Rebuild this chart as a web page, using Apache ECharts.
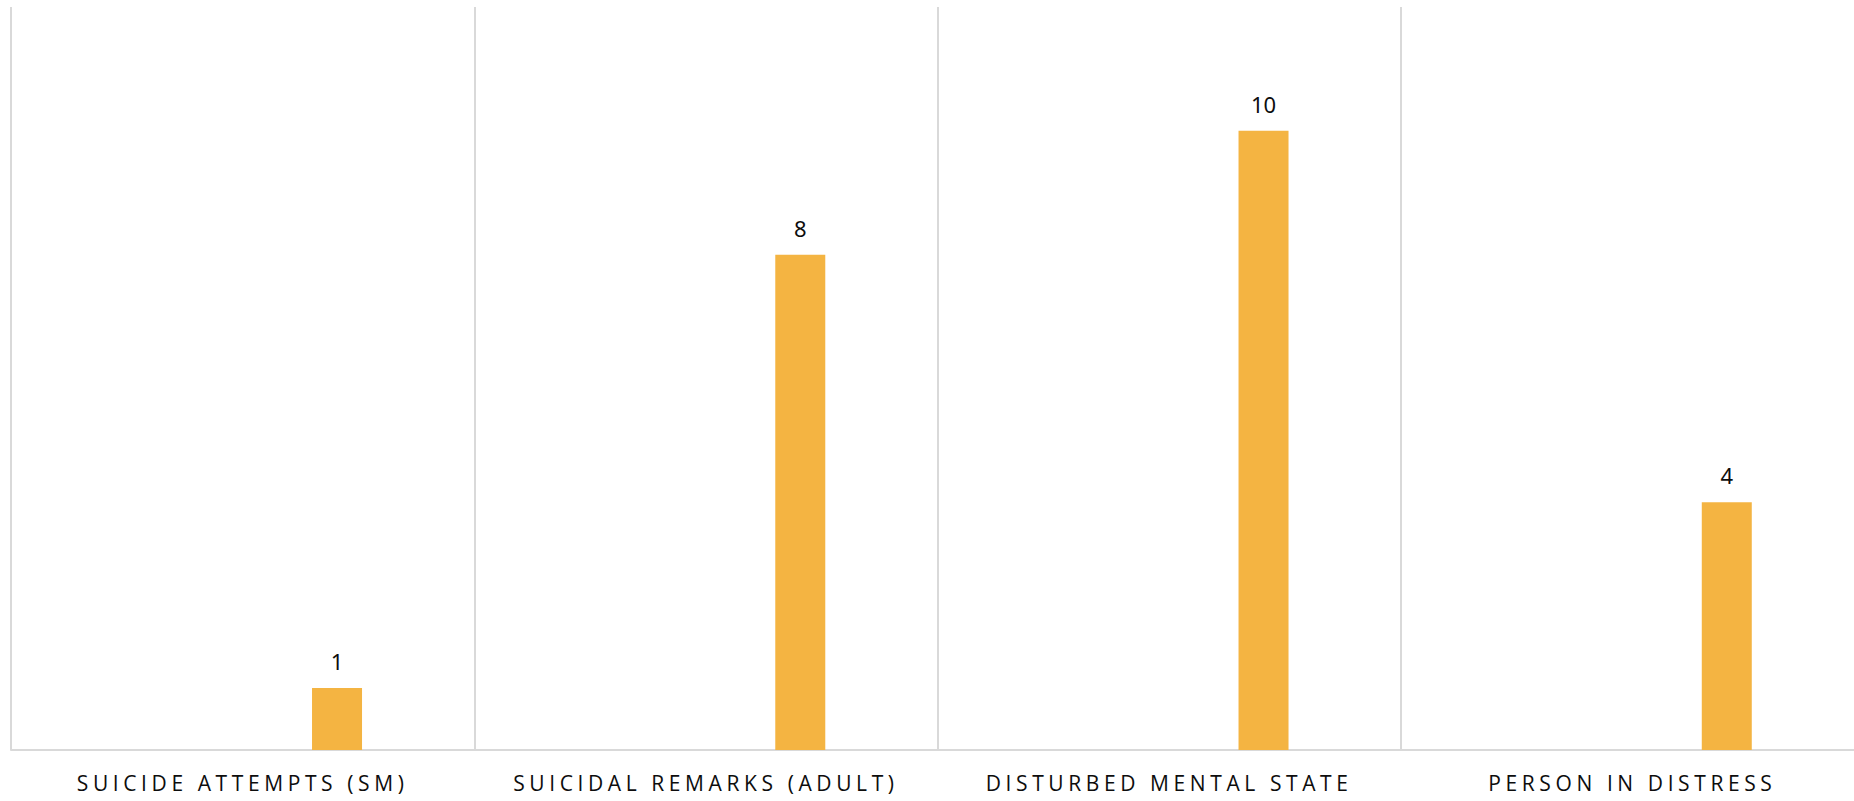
<!DOCTYPE html>
<html>
<head>
<meta charset="utf-8">
<script src="https://cdn.jsdelivr.net/npm/echarts@6/dist/echarts.min.js"></script>
<style>
  html, body { margin: 0; padding: 0; background: #ffffff; }
  #chart { width: 1854px; height: 801px; }
  #chart text[style*="Open Sans"] { letter-spacing: 4.6px; }
</style>
</head>
<body>
<div id="chart"></div>
<script>
const categories = ['SUICIDE ATTEMPTS (SM)', 'SUICIDAL REMARKS (ADULT)', 'DISTURBED MENTAL STATE', 'PERSON IN DISTRESS'];
const incidentCounts = [1, 8, 10, 4];
const emptySeries = ['-', '-', '-', '-'];
const yMax = 12;

const chart = echarts.init(document.getElementById('chart'), null, { renderer: 'svg' });

const placeholder = (name) => ({
  name: name,
  type: 'bar',
  data: emptySeries,
  barWidth: 50,
  barGap: '-5.6%',
  silent: true
});

chart.setOption({
  animation: false,
  backgroundColor: '#ffffff',
  grid: { left: 11, right: -10, top: 7, bottom: 51, outerBoundsMode: 'none', containLabel: false },
  xAxis: {
    type: 'category',
    data: categories,
    boundaryGap: true,
    axisLine: { show: true, lineStyle: { color: '#d9d9d9', width: 2 } },
    axisTick: { show: false },
    splitLine: { show: true, lineStyle: { color: '#d9d9d9', width: 2 } },
    axisLabel: {
      color: '#0d0d0d',
      fontFamily: 'Open Sans',
      fontSize: 21,
      margin: 22,
      interval: 0
    }
  },
  yAxis: {
    type: 'value',
    min: 0,
    max: yMax,
    show: true,
    axisLine: { show: false },
    axisTick: { show: false },
    axisLabel: { show: false },
    splitLine: { show: false }
  },
  series: [
    placeholder('s1'),
    placeholder('s2'),
    placeholder('s3'),
    placeholder('s4'),
    {
      name: 'Incidents',
      type: 'bar',
      data: incidentCounts,
      barWidth: 50,
      barGap: '-5.6%',
      itemStyle: { color: '#F4B442' },
      label: {
        show: true,
        position: 'top',
        distance: 16,
        color: '#0d0d0d',
        fontFamily: 'Noto Sans',
        fontSize: 22
      }
    }
  ]
});
</script>
</body>
</html>
